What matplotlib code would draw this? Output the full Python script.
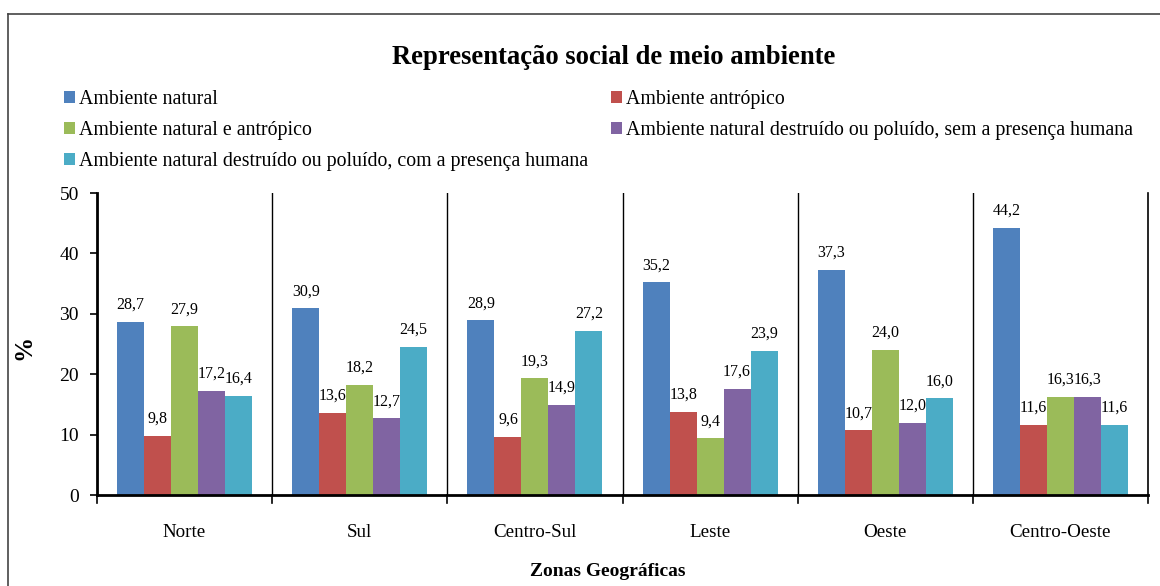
import matplotlib
matplotlib.use("Agg")
import matplotlib.pyplot as plt
import numpy as np
from matplotlib.patches import Patch
from matplotlib.lines import Line2D

categories = ["Norte", "Sul", "Centro-Sul", "Leste", "Oeste", "Centro-Oeste"]
series_names = [
    "Ambiente natural",
    "Ambiente antrópico",
    "Ambiente natural e antrópico",
    "Ambiente natural destruído ou poluído, sem a presença humana",
    "Ambiente natural destruído ou poluído, com a presença humana",
]
natural = [28.7, 30.9, 28.9, 35.2, 37.3, 44.2]
antropico = [9.8, 13.6, 9.6, 13.8, 10.7, 11.6]
natural_antropico = [27.9, 18.2, 19.3, 9.4, 24.0, 16.3]
destruido_sem = [17.2, 12.7, 14.9, 17.6, 12.0, 16.3]
destruido_com = [16.4, 24.5, 27.2, 23.9, 16.0, 11.6]
series = [natural, antropico, natural_antropico, destruido_sem, destruido_com]
colors = ["#4F81BD", "#C0504D", "#9BBB59", "#8064A2", "#4BACC6"]

plt.rcParams["font.family"] = ["Liberation Serif", "DejaVu Serif"]

fig = plt.figure(figsize=(11.6, 5.86), dpi=100)
ax = fig.add_axes([97/1160, 1 - 495/586, (1148 - 97)/1160, (495 - 193)/586])

n = len(categories)
x = np.arange(n)
bw = 0.154
for i, (vals, c) in enumerate(zip(series, colors)):
    pos = x + (i - 2) * bw
    ax.bar(pos, vals, width=bw, color=c, label=series_names[i])
    for p, v in zip(pos, vals):
        ax.text(p, v + 1.5, f"{v:.1f}".replace(".", ","), ha="center", va="bottom", fontsize=11.5)

ax.set_xlim(-0.5, n - 0.5)
ax.set_ylim(0, 50)
ax.set_yticks([0, 10, 20, 30, 40, 50])
ax.tick_params(axis="y", labelsize=14, length=5, width=1.2, direction="out", pad=8)
ax.set_xticks(x)
ax.set_xticklabels(categories, fontsize=13.7)
ax.tick_params(axis="x", length=0, pad=21)
# boundary ticks and separators
for b in np.arange(-0.5, n, 1.0):
    ax.plot([b, b], [0, -0.025], transform=ax.get_xaxis_transform(), color="black", lw=1.2, clip_on=False)
    if -0.5 < b < n - 0.5:
        ax.axvline(b, color="black", lw=1.0)
ax.spines["top"].set_visible(False)
ax.spines["right"].set_linewidth(1.2)
ax.spines["left"].set_linewidth(2)
ax.spines["bottom"].set_linewidth(2)

ax.set_ylabel("%", fontsize=18, fontweight="bold")
ax.yaxis.set_label_coords((35 - 97) / 1051, 0.49)
fig.text(608/1160, 1 - 571/586, "Zonas Geográficas", ha="center", va="center", fontsize=14, fontweight="bold")
fig.text(614/1160, 1 - 57/586, "Representação social de meio ambiente", ha="center", va="center",
         fontsize=19.2, fontweight="bold")

handles = [Patch(facecolor=c, edgecolor="none") for c in colors]
order = [0, 2, 4, 1, 3]
fig.legend([handles[i] for i in order], [series_names[i] for i in order], ncol=2,
           loc="upper left", bbox_to_anchor=(64/1160, 1 - 90/586), frameon=False,
           fontsize=14.3, handlelength=0.55, handleheight=0.55, handletextpad=0.2,
           columnspacing=1.15, labelspacing=0.6, borderpad=0, borderaxespad=0)

# figure border lines
fig.add_artist(Line2D([8/1160, 1], [1 - 14/586, 1 - 14/586], transform=fig.transFigure, color="#444444", lw=1.2))
fig.add_artist(Line2D([8/1160, 8/1160], [0, 1 - 14/586], transform=fig.transFigure, color="#444444", lw=1.2))

fig.savefig("out.png", dpi=100)
